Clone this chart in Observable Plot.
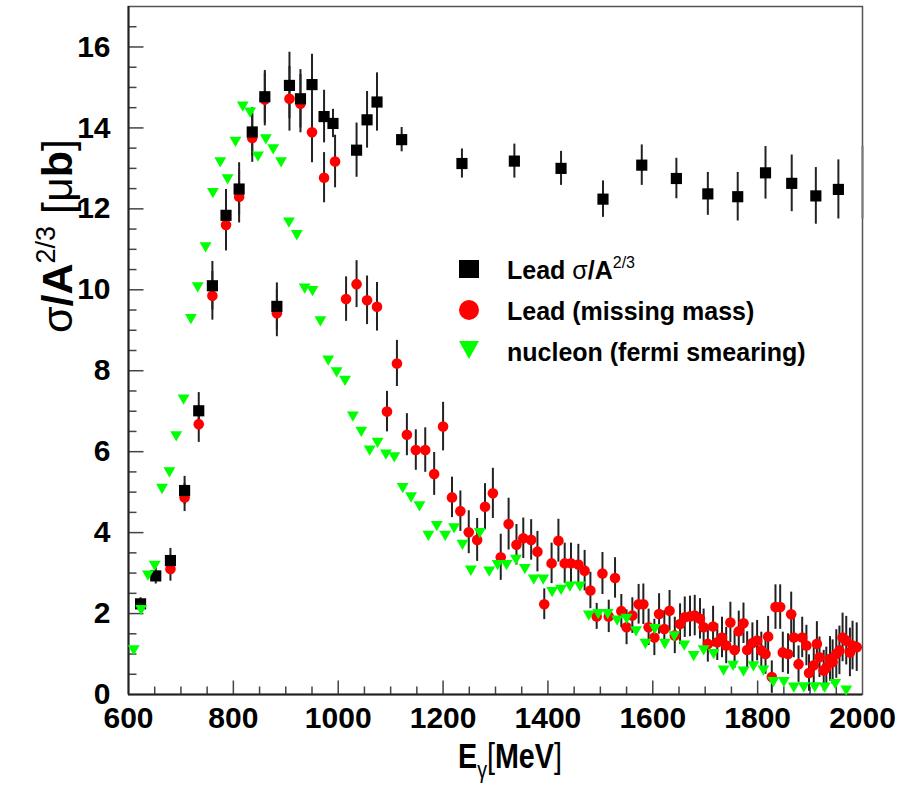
<!DOCTYPE html>
<html><head><meta charset="utf-8">
<script src="https://cdn.jsdelivr.net/npm/d3@7"></script>
<script src="https://cdn.jsdelivr.net/npm/@observablehq/plot@0.6"></script>
<style>
html,body{margin:0;padding:0;background:#fff;}
#chart{width:899px;height:792px;}
</style></head><body><div id="chart"></div>
<script>
// Lead sigma/A^(2/3) (black squares)
const leadE = [623, 652, 680, 707, 734, 760, 786, 811, 836, 860, 883, 907, 928, 950, 973, 990, 1035, 1055, 1074, 1121, 1236, 1336, 1425, 1505, 1579, 1645, 1705, 1762, 1815, 1865, 1911, 1954];
const leadV = [2.24, 2.93, 3.31, 5.04, 7.01, 10.1, 11.84, 12.49, 13.9, 14.77, 9.59, 15.05, 14.72, 15.07, 14.28, 14.11, 13.45, 14.2, 14.64, 13.71, 13.12, 13.18, 13.0, 12.24, 13.08, 12.75, 12.37, 12.3, 12.89, 12.63, 12.32, 12.48];
const leadErr = [0.15, 0.2, 0.3, 0.35, 0.45, 0.6, 0.64, 0.65, 0.6, 0.65, 0.58, 0.82, 0.72, 0.75, 0.65, 0.35, 0.67, 0.7, 0.72, 0.3, 0.36, 0.42, 0.42, 0.45, 0.5, 0.5, 0.53, 0.6, 0.65, 0.7, 0.7, 0.73];
// error bar at the right frame edge (marker outside)
const edgeE = [2000];
const edgeLo = [11.75];
const edgeHi = [13.55];

// Lead (missing mass) (red circles)
const mmE = [680, 707, 734, 760, 786, 811, 836, 860, 883, 907, 928, 950, 973, 994, 1015, 1035, 1055, 1074, 1093, 1112, 1131, 1148, 1166, 1183, 1200, 1217, 1233, 1249, 1265, 1280, 1295, 1310, 1325, 1340, 1353, 1368, 1380, 1393, 1407, 1420, 1432, 1444, 1458, 1470, 1481, 1493, 1504, 1516, 1528, 1540, 1550, 1561, 1573, 1582, 1592, 1603, 1612, 1622, 1632, 1642, 1652, 1661, 1671, 1680, 1690, 1697, 1705, 1715, 1723, 1732, 1740, 1748, 1756, 1764, 1773, 1780, 1790, 1799, 1807, 1815, 1820, 1827, 1834, 1843, 1848, 1858, 1864, 1869, 1878, 1885, 1893, 1898, 1907, 1913, 1918, 1926, 1931, 1938, 1943, 1950, 1956, 1962, 1969, 1976, 1981, 1989];
const mmV = [3.1, 4.87, 6.68, 9.85, 11.6, 12.3, 13.75, 14.7, 9.42, 14.72, 14.6, 13.89, 12.77, 13.17, 9.77, 10.14, 9.74, 9.58, 6.99, 8.18, 6.42, 6.04, 6.04, 5.45, 6.62, 4.87, 4.53, 4.01, 3.82, 4.64, 4.97, 3.39, 4.21, 3.7, 3.86, 3.82, 3.53, 2.23, 3.24, 3.8, 3.24, 3.24, 3.21, 3.06, 2.57, 1.93, 2.99, 1.93, 2.88, 2.06, 1.66, 1.95, 2.23, 2.23, 1.66, 1.41, 1.99, 1.62, 2.07, 1.46, 1.74, 1.91, 1.93, 1.95, 1.87, 1.66, 1.25, 1.68, 1.29, 1.41, 1.21, 1.78, 1.1, 1.56, 1.76, 1.1, 1.27, 1.33, 1.09, 1.0, 1.43, 0.43, 2.16, 2.16, 1.04, 1.0, 1.98, 1.41, 0.75, 1.41, 1.21, 0.53, 0.72, 1.25, 0.92, 0.59, 0.67, 0.88, 0.8, 1.0, 1.09, 1.41, 1.33, 1.04, 1.21, 1.17];
const mmErr = [0.3, 0.35, 0.45, 0.6, 0.64, 0.65, 0.6, 0.65, 0.58, 0.8, 0.72, 0.75, 0.62, 0.65, 0.55, 0.58, 0.6, 0.6, 0.5, 0.57, 0.52, 0.5, 0.55, 0.53, 0.6, 0.5, 0.5, 0.53, 0.53, 0.57, 0.62, 0.57, 0.64, 0.5, 0.5, 0.5, 0.5, 0.38, 0.5, 0.53, 0.5, 0.5, 0.5, 0.5, 0.45, 0.32, 0.52, 0.4, 0.5, 0.41, 0.43, 0.44, 0.49, 0.5, 0.45, 0.45, 0.5, 0.45, 0.5, 0.45, 0.5, 0.5, 0.5, 0.5, 0.5, 0.45, 0.45, 0.5, 0.45, 0.5, 0.45, 0.5, 0.45, 0.5, 0.5, 0.45, 0.5, 0.5, 0.45, 0.5, 0.5, 0.4, 0.55, 0.55, 0.5, 0.5, 0.55, 0.5, 0.45, 0.5, 0.5, 0.45, 0.5, 0.55, 0.5, 0.5, 0.5, 0.55, 0.55, 0.6, 0.6, 0.6, 0.6, 0.6, 0.6, 0.6];

// nucleon (fermi smearing) (green triangles)
const nucE = [610, 624, 637, 650, 664, 678, 691, 705, 719, 732, 747, 761, 775, 789, 804, 818, 832, 847, 862, 876, 891, 906, 921, 936, 951, 966, 981, 997, 1013, 1028, 1044, 1060, 1075, 1091, 1107, 1123, 1139, 1155, 1172, 1188, 1204, 1221, 1237, 1253, 1270, 1288, 1304, 1321, 1339, 1356, 1373, 1391, 1408, 1425, 1442, 1461, 1478, 1496, 1514, 1532, 1550, 1568, 1586, 1604, 1623, 1641, 1660, 1678, 1697, 1716, 1735, 1753, 1773, 1792, 1811, 1830, 1850, 1869, 1888, 1909, 1928, 1948, 1969];
const nucV = [1.13, 2.13, 2.98, 3.22, 5.12, 5.53, 6.42, 7.33, 9.32, 10.1, 11.09, 12.43, 13.19, 12.77, 13.7, 14.57, 14.42, 13.33, 13.76, 13.51, 13.19, 11.7, 11.39, 10.07, 10.01, 9.26, 8.29, 8.0, 7.79, 6.91, 6.53, 6.07, 6.26, 5.97, 5.9, 5.14, 4.91, 4.69, 3.96, 4.2, 3.96, 4.15, 3.74, 3.1, 4.03, 3.08, 3.24, 3.24, 3.37, 3.14, 2.88, 2.88, 2.57, 2.63, 2.71, 2.71, 1.99, 2.03, 2.03, 1.87, 1.91, 1.6, 1.29, 1.66, 1.29, 1.48, 1.25, 0.99, 1.13, 1.04, 0.63, 0.75, 0.61, 0.74, 0.63, 0.35, 0.35, 0.21, 0.22, 0.22, 0.21, 0.3, 0.14];

// axis ticks
const xMajor = [600, 800, 1000, 1200, 1400, 1600, 1800, 2000];
const xMinor = [650, 700, 750, 850, 900, 950, 1050, 1100, 1150, 1250, 1300, 1350, 1450, 1500, 1550, 1650, 1700, 1750, 1850, 1900, 1950];
const yMajor = [0, 2, 4, 6, 8, 10, 12, 14, 16];
const yMinor = [0.5, 1, 1.5, 2.5, 3, 3.5, 4.5, 5, 5.5, 6.5, 7, 7.5, 8.5, 9, 9.5, 10.5, 11, 11.5, 12.5, 13, 13.5, 14.5, 15, 15.5, 16.5];

const lead = leadE.map((e, i) => ({e, v: leadV[i], err: leadErr[i]}));
const mm = mmE.map((e, i) => ({e, v: mmV[i], err: mmErr[i]}));
const nuc = nucE.map((e, i) => ({e, v: nucV[i]}));
const edge = edgeE.map((e, i) => ({e, lo: edgeLo[i], hi: edgeHi[i]}));

const vTick = len => ({draw(ctx) { ctx.moveTo(0, 0); ctx.lineTo(0, -len); }});
const hTick = len => ({draw(ctx) { ctx.moveTo(0, 0); ctx.lineTo(len, 0); }});
const triDown = {draw(ctx, size) {
  const y = -Math.sqrt(size / (Math.sqrt(3) * 3));
  ctx.moveTo(0, -2 * y);
  ctx.lineTo(-Math.sqrt(3) * y, y);
  ctx.lineTo(Math.sqrt(3) * y, y);
  ctx.closePath();
}};

const FONT = "'Liberation Sans', Arial, Helvetica, sans-serif";
const tickColor = "#444";

const svg = Plot.plot({
  width: 899, height: 792,
  marginLeft: 128, marginRight: 37, marginTop: 6, marginBottom: 98,
  x: {domain: [600, 2000]},
  y: {domain: [0, 17]},
  style: {fontFamily: FONT, background: "#fff", color: "#000"},
  marks: [
    Plot.axisX(xMajor, {tickSize: 0, tickPadding: 12, fontSize: 30, fontWeight: "bold", tickFormat: d => String(d), label: null}),
    Plot.axisY(yMajor, {tickSize: 0, tickPadding: 18, fontSize: 30, fontWeight: "bold", tickFormat: d => String(d), label: null}),
    Plot.frame({stroke: "#555", strokeWidth: 1.5}),
    Plot.dot(xMajor.slice(1, -1), {x: d => d, y: () => 0, symbol: vTick(14), stroke: tickColor, fill: "none", strokeWidth: 1.5}),
    Plot.dot(xMinor, {x: d => d, y: () => 0, symbol: vTick(8), stroke: tickColor, fill: "none", strokeWidth: 1.5}),
    Plot.dot(yMajor.slice(1), {y: d => d, x: () => 600, symbol: hTick(15), stroke: tickColor, fill: "none", strokeWidth: 1.5}),
    Plot.dot(yMinor, {y: d => d, x: () => 600, symbol: hTick(8), stroke: tickColor, fill: "none", strokeWidth: 1.5}),
    Plot.ruleY([0], {stroke: "#222", strokeWidth: 2}),
    Plot.ruleX([600], {stroke: "#222", strokeWidth: 2}),
    Plot.ruleX(edge, {x: "e", y1: "lo", y2: "hi", stroke: "#777", strokeWidth: 2}),
    Plot.ruleX(mm, {x: "e", y1: d => d.v - d.err, y2: d => d.v + d.err, stroke: "#222", strokeWidth: 2}),
    Plot.ruleX(lead, {x: "e", y1: d => d.v - d.err, y2: d => d.v + d.err, stroke: "#222", strokeWidth: 2}),
    Plot.dot(mm, {x: "e", y: "v", r: 5.3, fill: "#ff0000", stroke: "none"}),
    Plot.dot(lead, {x: "e", y: "v", symbol: "square", r: 6.3, fill: "#000", stroke: "none"}),
    Plot.dot(nuc, {x: "e", y: "v", symbol: triDown, r: 4.4, fill: "#00ff00", stroke: "none"})
  ]
});
document.getElementById("chart").appendChild(svg);

const s = d3.select(svg);
// y-axis title
const yt = s.append("text")
  .attr("transform", "translate(72,236) rotate(-90)")
  .attr("text-anchor", "middle")
  .style("font-family", FONT).style("font-size", "43px").attr("fill", "#000");
yt.append("tspan").text("σ").style("font-weight", "normal");
yt.append("tspan").text("/A").style("font-weight", "bold");
yt.append("tspan").text("2/3").attr("dy", -17).style("font-size", "27px").style("font-weight", "normal");
yt.append("tspan").text(" [").attr("dy", 17).style("font-weight", "normal");
yt.append("tspan").text("μ").style("font-weight", "normal");
yt.append("tspan").text("b").style("font-weight", "bold");
yt.append("tspan").text("]").style("font-weight", "normal");

// x-axis title
const xt = s.append("text")
  .attr("transform", "translate(458,768) scale(0.82,1)")
  .attr("text-anchor", "start")
  .style("font-family", FONT).style("font-size", "35px").attr("fill", "#000");
xt.append("tspan").text("E").style("font-weight", "bold");
xt.append("tspan").text("γ").attr("dy", 10).style("font-size", "24px");
xt.append("tspan").text("[").attr("dy", -10).style("font-weight", "normal");
xt.append("tspan").text("MeV").style("font-weight", "bold");
xt.append("tspan").text("]").style("font-weight", "normal");

// legend
const lg = s.append("g").style("font-family", FONT).attr("text-anchor", "start");
lg.append("rect").attr("x", 459).attr("y", 260).attr("width", 20).attr("height", 18).attr("fill", "#000");
lg.append("circle").attr("cx", 469).attr("cy", 310).attr("r", 10).attr("fill", "#ff0000");
lg.append("path").attr("d", "M459,341 L479,341 L469,359 Z").attr("fill", "#00ff00");
const t1 = lg.append("text").attr("x", 507).attr("y", 279).attr("text-anchor", "start").style("font-size", "25px").style("font-weight", "bold");
t1.append("tspan").text("Lead ");
t1.append("tspan").text("σ").style("font-weight", "normal");
t1.append("tspan").text("/A");
t1.append("tspan").text("2/3").attr("dy", -11).style("font-size", "16px").style("font-weight", "normal");
lg.append("text").attr("x", 507).attr("y", 320).attr("text-anchor", "start").style("font-size", "25px").style("font-weight", "bold").text("Lead (missing mass)");
lg.append("text").attr("x", 507).attr("y", 361).attr("text-anchor", "start").style("font-size", "25px").style("font-weight", "bold").text("nucleon (fermi smearing)");
</script>
</body></html>
